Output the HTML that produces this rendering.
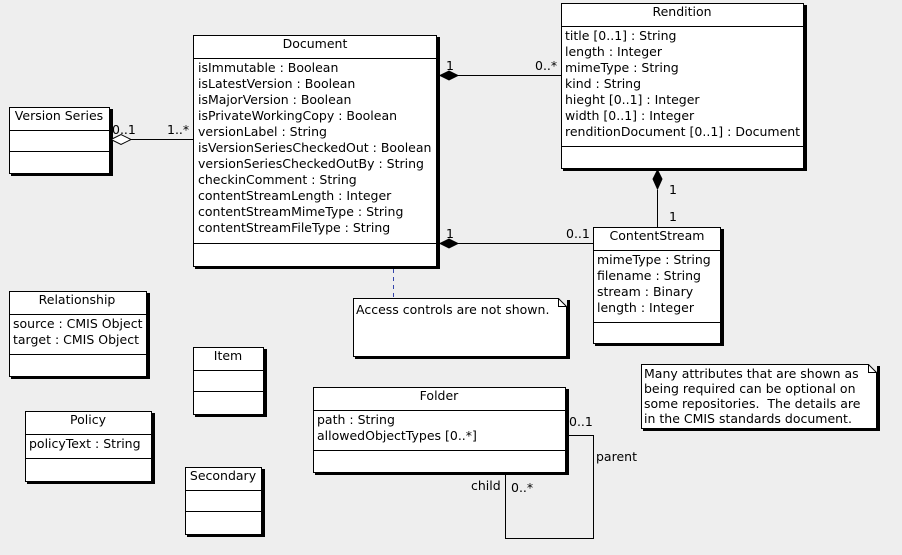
<!DOCTYPE html>
<html><head><meta charset="utf-8"><style>
html,body{margin:0;padding:0;background:#eeeeee;}
svg text{font-family:"DejaVu Sans","Liberation Sans",sans-serif;font-size:12.5px;fill:#000;}
</style></head><body>
<svg width="902" height="550" xmlns="http://www.w3.org/2000/svg">
<rect width="902" height="550" fill="#eeeeee"/>
<g stroke="#000" fill="#fff" stroke-width="1" shape-rendering="crispEdges">
<rect x="193.5" y="35.5" width="243" height="231"/>
<line x1="193" y1="58.5" x2="437" y2="58.5"/><line x1="193" y1="243.5" x2="437" y2="243.5"/>
<rect x="561.5" y="3.5" width="242" height="165"/>
<line x1="561" y1="26.5" x2="804" y2="26.5"/><line x1="561" y1="146.5" x2="804" y2="146.5"/>
<rect x="9.5" y="107.5" width="100" height="66"/>
<line x1="9" y1="130.5" x2="110" y2="130.5"/><line x1="9" y1="151.5" x2="110" y2="151.5"/>
<rect x="593.5" y="227.5" width="127" height="116"/>
<line x1="593" y1="250.5" x2="721" y2="250.5"/><line x1="593" y1="322.5" x2="721" y2="322.5"/>
<rect x="9.5" y="291.5" width="137" height="85"/>
<line x1="9" y1="314.5" x2="147" y2="314.5"/><line x1="9" y1="354.5" x2="147" y2="354.5"/>
<rect x="193.5" y="347.5" width="70" height="67"/>
<line x1="193" y1="370.5" x2="264" y2="370.5"/><line x1="193" y1="391.5" x2="264" y2="391.5"/>
<rect x="25.5" y="411.5" width="126" height="70"/>
<line x1="25" y1="434.5" x2="152" y2="434.5"/><line x1="25" y1="458.5" x2="152" y2="458.5"/>
<rect x="185.5" y="467.5" width="76" height="67"/>
<line x1="185" y1="490.5" x2="262" y2="490.5"/><line x1="185" y1="511.5" x2="262" y2="511.5"/>
<rect x="313.5" y="387.5" width="252" height="85"/>
<line x1="313" y1="410.5" x2="566" y2="410.5"/><line x1="313" y1="450.5" x2="566" y2="450.5"/>
</g>
<g stroke="#000" fill="#fff" stroke-width="1">
<path d="M353.5 298.5 H558.5 L566.5 306.5 V356.5 H353.5 Z"/>
<path d="M558.5 298.5 V306.5 H566.5" fill="none"/>
<path d="M641.5 364.5 H868.5 L876.5 372.5 V428.5 H641.5 Z"/>
<path d="M868.5 364.5 V372.5 H876.5" fill="none"/>
</g>
<g fill="#000">
<rect x="437" y="37" width="3" height="232"/><rect x="195" y="267" width="245" height="2"/>
<rect x="804" y="5" width="3" height="166"/><rect x="563" y="169" width="244" height="2"/>
<rect x="110" y="109" width="3" height="67"/><rect x="11" y="174" width="102" height="2"/>
<rect x="721" y="229" width="3" height="117"/><rect x="595" y="344" width="129" height="2"/>
<rect x="147" y="293" width="3" height="86"/><rect x="11" y="377" width="139" height="2"/>
<rect x="264" y="349" width="3" height="68"/><rect x="195" y="415" width="72" height="2"/>
<rect x="152" y="413" width="3" height="71"/><rect x="27" y="482" width="128" height="2"/>
<rect x="262" y="469" width="3" height="68"/><rect x="187" y="535" width="78" height="2"/>
<rect x="566" y="389" width="3" height="86"/><rect x="315" y="473" width="254" height="2"/>
<rect x="567" y="300" width="3" height="59"/><rect x="355" y="357" width="215" height="2"/>
<rect x="877" y="366" width="3" height="65"/><rect x="643" y="429" width="237" height="2"/>
</g>
<g stroke="#000" stroke-width="1" fill="none" shape-rendering="crispEdges">
<line x1="458" y1="75.5" x2="561" y2="75.5"/>
<line x1="458" y1="243.5" x2="593" y2="243.5"/>
<line x1="657.5" y1="190" x2="657.5" y2="227"/>
<line x1="131" y1="139.5" x2="193" y2="139.5"/>
<path d="M566 435.5 H593.5 V538.5 H505.5 V472"/>
</g>
<line x1="393.5" y1="269" x2="393.5" y2="298" stroke="#3344aa" stroke-dasharray="4,4"/>
<g stroke="#000" fill="#000">
<path d="M440 75.5 L449 71 L458 75.5 L449 80 Z"/>
<path d="M440 243.5 L449 239 L458 243.5 L449 248 Z"/>
<path d="M657.5 170 L662 179 L657.5 189 L653 179 Z"/>
</g>
<path d="M111 139.5 L121 134.5 L131 139.5 L121 144.5 Z" stroke="#000" fill="#fff"/>
<g text-anchor="middle">
<text x="315" y="48">Document</text>
<text x="682" y="16">Rendition</text>
<text x="59" y="120">Version Series</text>
<text x="657" y="240">ContentStream</text>
<text x="77" y="304">Relationship</text>
<text x="228" y="360">Item</text>
<text x="88" y="424">Policy</text>
<text x="223" y="480">Secondary</text>
<text x="439" y="400">Folder</text>
</g>
<g>
<text x="198" y="72">isImmutable : Boolean</text>
<text x="198" y="88">isLatestVersion : Boolean</text>
<text x="198" y="104">isMajorVersion : Boolean</text>
<text x="198" y="120">isPrivateWorkingCopy : Boolean</text>
<text x="198" y="136">versionLabel : String</text>
<text x="198" y="152">isVersionSeriesCheckedOut : Boolean</text>
<text x="198" y="168">versionSeriesCheckedOutBy : String</text>
<text x="198" y="184">checkinComment : String</text>
<text x="198" y="200">contentStreamLength : Integer</text>
<text x="198" y="216">contentStreamMimeType : String</text>
<text x="198" y="232">contentStreamFileType : String</text>

<text x="565" y="40">title [0..1] : String</text>
<text x="565" y="56">length : Integer</text>
<text x="565" y="72">mimeType : String</text>
<text x="565" y="88">kind : String</text>
<text x="565" y="104">hieght [0..1] : Integer</text>
<text x="565" y="120">width [0..1] : Integer</text>
<text x="565" y="136">renditionDocument [0..1] : Document</text>

<text x="597" y="264">mimeType : String</text>
<text x="597" y="280">filename : String</text>
<text x="597" y="296">stream : Binary</text>
<text x="597" y="312">length : Integer</text>

<text x="13" y="328">source : CMIS Object</text>
<text x="13" y="344">target : CMIS Object</text>
<text x="29" y="448">policyText : String</text>
<text x="317" y="424">path : String</text>
<text x="317" y="440">allowedObjectTypes [0..*]</text>

<text x="356" y="314">Access controls are not shown.</text>
<text x="644" y="378">Many attributes that are shown as</text>
<text x="644" y="393">being required can be optional on</text>
<text x="644" y="408" xml:space="preserve">some repositories.  The details are</text>
<text x="644" y="423">in the CMIS standards document.</text>

<text x="446" y="70">1</text>
<text x="535" y="70">0..*</text>
<text x="446" y="238">1</text>
<text x="566" y="238">0..1</text>
<text x="669" y="194">1</text>
<text x="669" y="221">1</text>
<text x="112" y="134">0..1</text>
<text x="167" y="134">1..*</text>
<text x="569" y="426">0..1</text>
<text x="596" y="461">parent</text>
<text x="471" y="490">child</text>
<text x="511" y="492">0..*</text>
</g>
</svg>
</body></html>
